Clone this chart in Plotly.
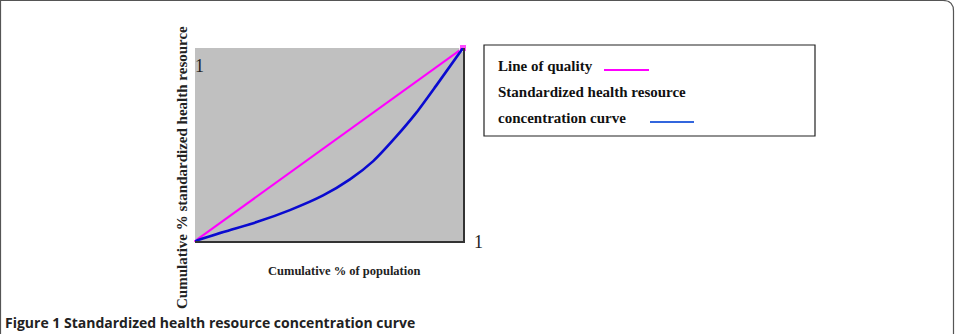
import plotly.graph_objects as go

# Data
equality_x = [0, 1]
equality_y = [0, 1]
curve_x = [0, 0.106, 0.23, 0.354, 0.478, 0.578, 0.665, 0.752, 0.826, 0.90, 1]
curve_y = [0, 0.047, 0.098, 0.16, 0.236, 0.319, 0.414, 0.543, 0.665, 0.805, 1]

W, H = 959, 334
L, R, T, B = 195, 463, 48, 241  # plot area pixels
pw, ph = R - L, B - T

def px(x):
    return (x - L) / pw

def py(y):
    return (B - y) / ph

fig = go.Figure()
fig.add_trace(go.Scatter(x=equality_x, y=equality_y, mode="lines+markers",
                         line=dict(color="#FF00FF", width=2.2),
                         marker=dict(symbol="square", size=[3, 7], color="#FF00FF"),
                         hoverinfo="skip", showlegend=False, cliponaxis=False))
fig.add_trace(go.Scatter(x=curve_x, y=curve_y, mode="lines",
                         line=dict(color="#0A0AD0", width=2.6, shape="spline", smoothing=0.7),
                         hoverinfo="skip", showlegend=False, cliponaxis=False))

serif = "Liberation Serif, Times New Roman, serif"
shapes = [
    # outer rounded frame
    dict(type="path", xref="paper", yref="paper",
         path=f"M {px(0.5)} {py(H + 20)} L {px(0.5)} {py(0.5)} L {px(943)} {py(0.5)} "
              f"Q {px(953.5)} {py(0.5)} {px(953.5)} {py(11)} L {px(953.5)} {py(H + 20)}",
         line=dict(color="#555555", width=1.2)),
    # legend box
    dict(type="rect", xref="paper", yref="paper",
         x0=px(484), x1=px(815), y0=py(136), y1=py(45),
         line=dict(color="#222222", width=1.2), fillcolor="white"),
    dict(type="line", xref="paper", yref="paper",
         x0=px(604), x1=px(649), y0=py(70), y1=py(70),
         line=dict(color="#FF00FF", width=2)),
    dict(type="line", xref="paper", yref="paper",
         x0=px(650), x1=px(694), y0=py(122), y1=py(122),
         line=dict(color="#3366DD", width=2)),
]

ann = [
    dict(text="<b>Line of quality</b>", x=px(496), y=py(66), xanchor="left", yanchor="middle",
         font=dict(family=serif, size=15, color="#111")),
    dict(text="<b>Standardized health resource</b>", x=px(496), y=py(92), xanchor="left", yanchor="middle",
         font=dict(family=serif, size=15, color="#111")),
    dict(text="<b>concentration curve</b>", x=px(496), y=py(118), xanchor="left", yanchor="middle",
         font=dict(family=serif, size=15, color="#111")),
    dict(text="<b>Cumulative % of population</b>", x=px(344), y=py(271), xanchor="center", yanchor="middle",
         font=dict(family=serif, size=12.5, color="#222")),
    dict(text="<b>Cumulative % standardized health resource</b>", x=px(182), y=py(168),
         xanchor="center", yanchor="middle", textangle=-90,
         font=dict(family=serif, size=15, color="#222")),
    dict(text="1", x=px(193), y=py(66), xanchor="left", yanchor="middle",
         font=dict(family=serif, size=18, color="#222222")),
    dict(text="1", x=px(478), y=py(242), xanchor="center", yanchor="middle",
         font=dict(family=serif, size=18, color="#222222")),
    dict(text="<b>Figure 1 Standardized health resource concentration curve</b>",
         x=px(3), y=py(334), xanchor="left", yanchor="bottom",
         font=dict(family="Open Sans, sans-serif", size=14, color="#222")),
]
for a in ann:
    a.update(xref="paper", yref="paper", showarrow=False)

fig.update_layout(
    width=W, height=H,
    margin=dict(l=L, r=W - R, t=T, b=H - B),
    paper_bgcolor="white", plot_bgcolor="#C0C0C0",
    xaxis=dict(range=[0, 1], showgrid=False, zeroline=False, showticklabels=False,
               ticks="", showline=True, linecolor="#333333", linewidth=2, fixedrange=True),
    yaxis=dict(range=[0, 1], side="right", showgrid=False, zeroline=False, showticklabels=False,
               ticks="", showline=True, linecolor="#333333", linewidth=2, fixedrange=True),
    shapes=shapes, annotations=ann,
)
fig.write_html("out.html")
